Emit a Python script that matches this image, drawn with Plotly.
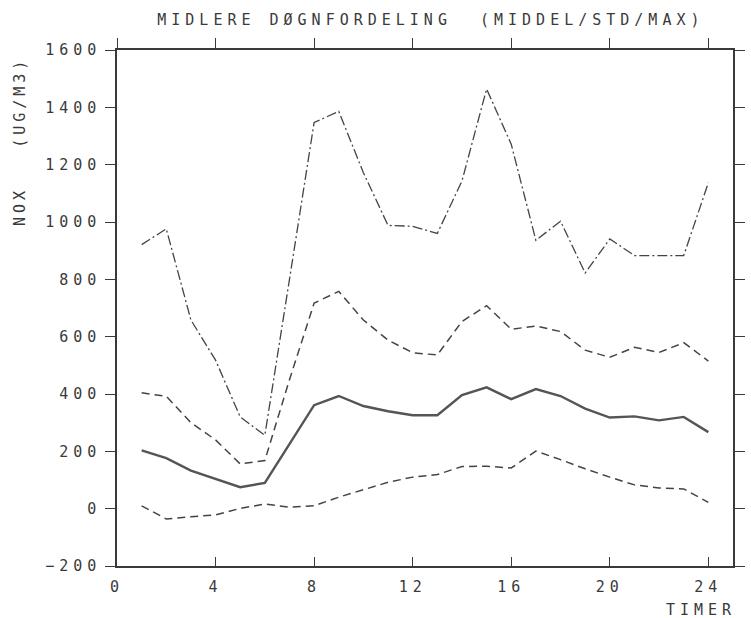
import plotly.graph_objects as go

# Hourly NOx distribution (ug/m3): mean, mean +/- std and maximum
hours = list(range(1, 25))
mean_vals = [203, 176, 133, 104, 75, 90, 226, 361, 393, 358, 340, 326,
             326, 396, 423, 382, 417, 393, 349, 318, 322, 308, 320, 267]
upper_std = [404, 392, 300, 240, 156, 168, 450, 717, 758, 658, 588, 544,
             536, 653, 708, 626, 637, 618, 553, 528, 563, 545, 579, 515]
lower_std = [10, -36, -28, -22, 1, 16, 5, 10, 40, 65, 92, 110,
             119, 147, 148, 142, 201, 171, 139, 110, 83, 72, 69, 22]
max_vals = [921, 976, 658, 518, 320, 256, 800, 1347, 1386, 1172, 988, 985,
            960, 1143, 1464, 1271, 936, 1003, 822, 941, 883, 883, 883, 1137]

x_ticks = [0, 4, 8, 12, 16, 20, 24]
y_ticks = [-200, 0, 200, 400, 600, 800, 1000, 1200, 1400, 1600]

title_text = "MIDLERE DØGNFORDELING  (MIDDEL/STD/MAX)"
y_title = "NOX   (UG/M3)"
x_title = "TIMER"

FONT = "DejaVu Sans Mono"
FS = 15
INK = "#3a3a3a"


def spaced(s, px=5):
    # plotter-style wide letter spacing
    return f'<span style="letter-spacing:{px}px">{s}</span>'


fig = go.Figure()

fig.add_trace(go.Scatter(x=hours, y=max_vals, mode="lines",
                         line=dict(color="#444", width=1.3, dash="10px,3px,2px,3px")))
fig.add_trace(go.Scatter(x=hours, y=upper_std, mode="lines",
                         line=dict(color="#444", width=1.5, dash="8px,5px")))
fig.add_trace(go.Scatter(x=hours, y=lower_std, mode="lines",
                         line=dict(color="#444", width=1.5, dash="8px,5px")))
fig.add_trace(go.Scatter(x=hours, y=mean_vals, mode="lines",
                         line=dict(color="#555", width=2.4)))
# invisible trace carrying the top axis
fig.add_trace(go.Scatter(x=[0, 25], y=[0, 0], xaxis="x2", mode="lines",
                         line=dict(width=0), hoverinfo="skip", showlegend=False))

fig.update_layout(
    width=751, height=618,
    margin=dict(l=117, r=6, t=50, b=52),
    paper_bgcolor="white", plot_bgcolor="white",
    showlegend=False,
    font=dict(family=FONT, size=FS, color=INK),
    title=dict(text=spaced(title_text), x=0.5 + 6 / 628, xref="paper",
               xanchor="center", y=1 - 20 / 618, yref="container",
               yanchor="middle", font=dict(family=FONT, size=FS, color=INK)),
    xaxis=dict(range=[0, 25], tickmode="array", tickvals=x_ticks,
               ticktext=[spaced(str(v)) for v in x_ticks],
               ticks="inside", ticklen=9, tickwidth=1.4, tickcolor=INK,
               showline=True, linecolor=INK, linewidth=1.5, mirror=False,
               showgrid=False, zeroline=False, ticklabelstandoff=6),
    xaxis2=dict(range=[0, 25], overlaying="x", side="top", tickmode="array",
                tickvals=x_ticks, showticklabels=False,
                ticks="outside", ticklen=10, tickwidth=1.4, tickcolor=INK,
                showline=True, linecolor=INK, linewidth=1.5,
                showgrid=False, zeroline=False),
    yaxis=dict(range=[-200, 1600], tickmode="array", tickvals=y_ticks,
               ticktext=[spaced(str(v).replace("-", "−")) for v in y_ticks],
               ticks="outside", ticklen=10, tickwidth=1.4, tickcolor=INK,
               showline=True, linecolor=INK, linewidth=1.5, mirror="ticks",
               showgrid=False, zeroline=False, ticklabelstandoff=1),
    annotations=[
        dict(text=spaced(y_title, 4), textangle=-90, xref="paper", yref="paper",
             x=0, xshift=-97, y=(566 - 142) / 516, xanchor="center",
             yanchor="middle", showarrow=False,
             font=dict(family=FONT, size=FS, color=INK)),
        dict(text=spaced(x_title), xref="paper", yref="paper",
             x=(712 - 117) / 628, y=(566 - 610) / 516, xanchor="center",
             yanchor="middle", showarrow=False,
             font=dict(family=FONT, size=FS, color=INK)),
    ],
)

fig.write_html("out.html")
